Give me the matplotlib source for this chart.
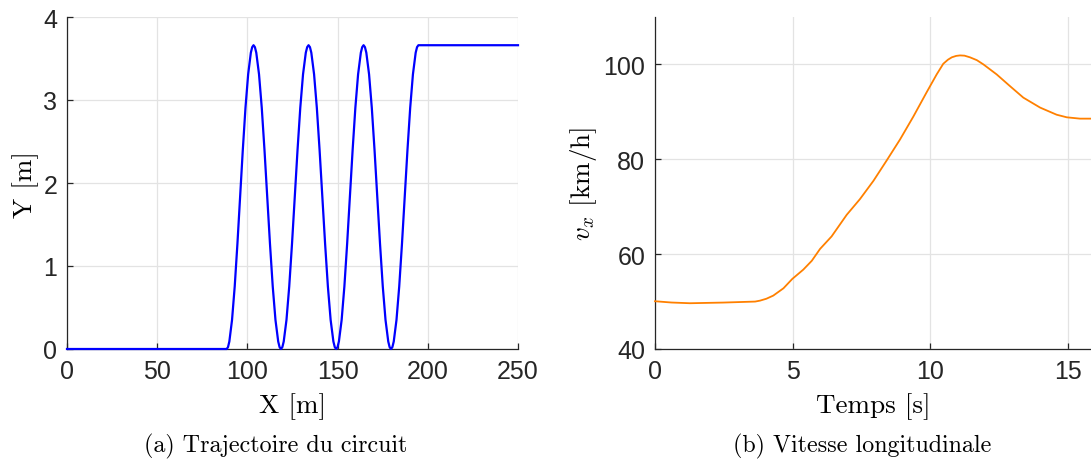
import matplotlib
matplotlib.use('Agg')
import matplotlib.pyplot as plt

# (a) lane-change circuit trajectory (one line per half-wave)
traj_x = [0, 88.5,
          89.25, 89.99, 91.48, 92.97, 94.46, 95.95, 97.44, 98.93, 100.42, 101.91, 102.66, 103.4,
          104.16, 104.92, 106.44, 107.96, 109.48, 111.0, 112.52, 114.04, 115.56, 117.08, 117.84, 118.6,
          119.37, 120.13, 121.66, 123.19, 124.72, 126.25, 127.78, 129.31, 130.84, 132.37, 133.14, 133.9,
          134.67, 135.43, 136.96, 138.49, 140.02, 141.55, 143.08, 144.61, 146.14, 147.67, 148.44, 149.2,
          149.96, 150.72, 152.24, 153.76, 155.28, 156.8, 158.32, 159.84, 161.36, 162.88, 163.64, 164.4,
          165.16, 165.92, 167.44, 168.96, 170.48, 172.0, 173.52, 175.04, 176.56, 178.08, 178.84, 179.6,
          180.36, 181.12, 182.64, 184.16, 185.68, 187.2, 188.72, 190.24, 191.76, 193.28, 194.04, 194.8,
          250]
traj_y = [0, 0,
          0.0225, 0.090, 0.350, 0.754, 1.265, 1.830, 2.395, 2.906, 3.310, 3.570, 3.637, 3.660,
          3.637, 3.570, 3.310, 2.906, 2.395, 1.830, 1.265, 0.754, 0.350, 0.090, 0.0225, 0.0,
          0.0225, 0.090, 0.350, 0.754, 1.265, 1.830, 2.395, 2.906, 3.310, 3.570, 3.637, 3.660,
          3.637, 3.570, 3.310, 2.906, 2.395, 1.830, 1.265, 0.754, 0.350, 0.090, 0.0225, 0.0,
          0.0225, 0.090, 0.350, 0.754, 1.265, 1.830, 2.395, 2.906, 3.310, 3.570, 3.637, 3.660,
          3.637, 3.570, 3.310, 2.906, 2.395, 1.830, 1.265, 0.754, 0.350, 0.090, 0.0225, 0.0,
          0.0225, 0.090, 0.350, 0.754, 1.265, 1.830, 2.395, 2.906, 3.310, 3.570, 3.637, 3.660,
          3.660]

# (b) longitudinal speed
time_s = [0, 0.6, 1.27, 2.48, 3.64, 3.82, 4.05, 4.30, 4.67, 4.99, 5.39, 5.70, 6.00, 6.42,
          6.97, 7.45, 7.94, 8.42, 8.91, 9.39, 9.88, 10.24, 10.48, 10.65, 10.79, 10.95, 11.09,
          11.25, 11.45, 11.70, 11.94, 12.42, 12.91, 13.39, 14.00, 14.60, 14.97, 15.45, 15.85]
vx_kmh = [50.07, 49.8, 49.65, 49.79, 50.0, 50.2, 50.6, 51.26, 52.8, 54.77, 56.73, 58.6, 61.1,
          63.74, 68.3, 71.6, 75.45, 79.73, 84.2, 88.99, 94.18, 97.9, 100.14, 101.0, 101.5, 101.8,
          101.9, 101.85, 101.5, 100.9, 100.0, 97.9, 95.4, 93.0, 90.9, 89.4, 88.85, 88.57, 88.57]

xticks_a = [0, 50, 100, 150, 200, 250]
yticks_a = [0, 1, 2, 3, 4]
xticks_b = [0, 5, 10, 15]
yticks_b = [40, 60, 80, 100]

plt.rcParams['mathtext.fontset'] = 'cm'
TICK_FONT = 'Liberation Sans'
LATEX_FONT = 'cmr10'
W, H = 1091, 460

fig = plt.figure(figsize=(W / 100, H / 100), dpi=100)
ax_a = fig.add_axes([67 / W, 110 / H, 451 / W, 332 / H])
ax_b = fig.add_axes([655 / W, 110 / H, 436 / W, 332 / H])


def style_axes(ax, xticks, yticks):
    ax.set_xticks(xticks)
    ax.set_yticks(yticks)
    ax.grid(True, color='#e3e3e3', linewidth=0.9)
    ax.set_axisbelow(True)
    for side in ('top', 'right'):
        ax.spines[side].set_visible(False)
    for side in ('left', 'bottom'):
        ax.spines[side].set_color('#262626')
        ax.spines[side].set_linewidth(0.9)
    ax.tick_params(direction='in', length=4, width=0.9, color='#262626',
                   labelsize=18, labelcolor='#262626', pad=7)
    for lab in ax.get_xticklabels() + ax.get_yticklabels():
        lab.set_fontfamily(TICK_FONT)


ax_a.plot(traj_x, traj_y, color='#0000ff', linewidth=1.6, clip_on=False, zorder=3)
ax_a.set_xlim(0, 250)
ax_a.set_ylim(0, 4)
style_axes(ax_a, xticks_a, yticks_a)
ax_a.set_xlabel('X [m]', fontfamily=LATEX_FONT, fontsize=19.5, labelpad=7)
ax_a.set_ylabel('Y [m]', fontfamily=LATEX_FONT, fontsize=19.5, labelpad=3)

ax_b.plot(time_s, vx_kmh, color='#ff8000', linewidth=1.3, clip_on=False, zorder=3)
ax_b.set_xlim(0, 15.85)
ax_b.set_ylim(40, 110)
style_axes(ax_b, xticks_b, yticks_b)
ax_b.set_xlabel('Temps [s]', fontfamily=LATEX_FONT, fontsize=19.5, labelpad=7)
ax_b.set_ylabel(r'$v_x$ [km/h]', fontfamily=LATEX_FONT, fontsize=19.5, labelpad=3)

fig.text(276 / W, 1 - 446 / H, '(a) Trajectoire du circuit', fontfamily=LATEX_FONT,
         fontsize=17.3, ha='center', va='center')
fig.text(862 / W, 1 - 446 / H, '(b) Vitesse longitudinale', fontfamily=LATEX_FONT,
         fontsize=17.3, ha='center', va='center')

fig.savefig('out.png', dpi=100)
